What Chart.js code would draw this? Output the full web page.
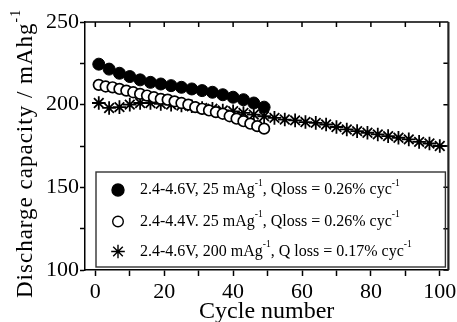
<!DOCTYPE html>
<html>
<head>
<meta charset="utf-8">
<script src="https://cdn.jsdelivr.net/npm/chart.js@4.4.1/dist/chart.umd.min.js"></script>
<style>
  html, body { margin: 0; padding: 0; background: #fff; }
  #wrap { width: 457px; height: 322px; }
</style>
</head>
<body>
<div id="wrap"><canvas id="chart"></canvas></div>
<script>
// values (cycle number, mAh/g)
const cyclesFilled = [1, 4, 7, 10, 13, 16, 19, 22, 25, 28, 31, 34, 37, 40, 43, 46, 49];
const capFilled = [224.5, 221.5, 219, 217, 215, 213.5, 212.5, 211.5, 210.5, 209.5, 208.5, 207.5, 206, 204.5, 203, 201, 198.5];

const cyclesOpen = [1, 3, 5, 7, 9, 11, 13, 15, 17, 19, 21, 23, 25, 27, 29, 31, 33, 35, 37, 39, 41, 43, 45, 47, 49];
const capOpen = [212, 211, 210.5, 209.5, 208.5, 207.5, 206.5, 205.5, 204.5, 203.5, 203, 202, 201, 200, 198.5, 197.5, 196.5, 195.5, 194.5, 193, 191.5, 190, 188.5, 187, 185.5];

const cyclesStar = [1, 4, 7, 10, 13, 16, 19, 22, 25, 28, 31, 34, 37, 40, 43, 46, 49, 52, 55, 58, 61, 64, 67, 70, 73, 76, 79, 82, 85, 88, 91, 94, 97, 100];
const capStar = [201, 198, 198.5, 200, 201, 201, 200.5, 200, 199.5, 199, 198, 197.5, 196.5, 196, 195, 194, 193, 192, 191, 190.5, 189.5, 189, 188, 186.5, 185, 184, 183, 182, 181, 180, 179, 177.5, 176.5, 175];

const xTicks = [0, 10, 20, 30, 40, 50, 60, 70, 80, 90, 100];
const xLabels = [0, 20, 40, 60, 80, 100];
const yTicks = [100, 125, 150, 175, 200, 225, 250];
const yLabels = [100, 150, 200, 250];

// legend text, [text, superscript?]
const legendRows = [
  [["2.4-4.6V, 25 mAg", false], ["-1", true], [", Qloss = 0.26% cyc", false], ["-1", true]],
  [["2.4-4.4V. 25 mAg", false], ["-1", true], [", Qloss = 0.26% cyc", false], ["-1", true]],
  [["2.4-4.6V, 200 mAg", false], ["-1", true], [", Q loss = 0.17% cyc", false], ["-1", true]]
];
const yTitle = [["Discharge capacity / mAhg", false], ["-1", true]];

const FONT = '"Liberation Serif", "Times New Roman", serif';

function toPoints(xs, ys) {
  return xs.map((c, i) => ({ x: c, y: ys[i] }));
}

function richWidth(ctx, parts, size, spacing) {
  let w = 0;
  parts.forEach(([t, sup]) => {
    ctx.font = (sup ? size * 0.6 : size) + 'px ' + FONT;
    w += ctx.measureText(t).width + (spacing || 0) * t.length;
  });
  return w;
}

function drawRich(ctx, parts, x, y, size) {
  let cx = x;
  parts.forEach(([t, sup]) => {
    ctx.font = (sup ? size * 0.6 : size) + 'px ' + FONT;
    ctx.fillText(t, cx, sup ? y - size * 0.42 : y);
    cx += ctx.measureText(t).width;
  });
}

const framePlugin = {
  id: 'frame',
  afterDraw(chart) {
    const { ctx, chartArea: a, scales: { x, y } } = chart;
    ctx.save();
    ctx.strokeStyle = '#000';
    ctx.fillStyle = '#000';

    // top and right axes with inward ticks
    ctx.lineWidth = 1.5;
    ctx.beginPath();
    ctx.moveTo(a.left, a.top);
    ctx.lineTo(a.right, a.top);
    yTicks.forEach(v => {
      const py = y.getPixelForValue(v);
      ctx.moveTo(a.right, py);
      ctx.lineTo(a.right - 5, py);
    });
    xTicks.forEach(v => {
      const px = x.getPixelForValue(v);
      ctx.moveTo(px, a.top);
      ctx.lineTo(px, a.top + 5);
    });
    ctx.stroke();
    ctx.lineWidth = 2.2;
    ctx.strokeStyle = '#222';
    ctx.beginPath();
    ctx.moveTo(a.right, a.top);
    ctx.lineTo(a.right, a.bottom);
    ctx.stroke();

    // legend box
    ctx.strokeStyle = '#333';
    ctx.lineWidth = 1.4;
    ctx.strokeRect(a.left + 11, a.top + 150, a.right - a.left - 14, a.bottom - a.top - 153);

    const rowY = [a.top + 168, a.top + 199.5, a.top + 229.5];
    ctx.textBaseline = 'middle';
    ctx.textAlign = 'left';
    chart.data.datasets.forEach((ds, i) => {
      ctx.fillStyle = ds.backgroundColor;
      ctx.strokeStyle = ds.borderColor;
      Chart.helpers.drawPoint(ctx, {
        pointStyle: ds.pointStyle,
        radius: ds.pointRadius,
        borderWidth: ds.borderWidth,
        rotation: 0
      }, a.left + 33, rowY[i]);
      ctx.fillStyle = '#000';
      drawRich(ctx, legendRows[i], a.left + 55, rowY[i], 16);
    });

    // y axis title
    const size = 23;
    ctx.save();
    ctx.translate(26, (a.top + a.bottom) / 2 - 6);
    ctx.rotate(-Math.PI / 2);
    ctx.letterSpacing = '1px';
    const w = richWidth(ctx, yTitle, size, 1);
    drawRich(ctx, yTitle, -w / 2, 0, size);
    ctx.restore();

    ctx.restore();
  }
};

new Chart(document.getElementById('chart'), {
  type: 'scatter',
  data: {
    datasets: [
      {
        data: toPoints(cyclesFilled, capFilled),
        pointStyle: 'circle',
        pointRadius: 6,
        backgroundColor: '#000',
        borderColor: '#000',
        borderWidth: 1
      },
      {
        data: toPoints(cyclesOpen, capOpen),
        pointStyle: 'circle',
        pointRadius: 5.3,
        backgroundColor: '#fff',
        borderColor: '#000',
        borderWidth: 1.7
      },
      {
        data: toPoints(cyclesStar, capStar),
        pointStyle: 'star',
        pointRadius: 6.8,
        backgroundColor: '#000',
        borderColor: '#000',
        borderWidth: 1.8
      }
    ]
  },
  options: {
    responsive: true,
    maintainAspectRatio: false,
    animation: false,
    layout: { padding: { top: 22, right: 7, left: 0, bottom: 0 } },
    plugins: {
      legend: { display: false },
      tooltip: { enabled: false }
    },
    scales: {
      x: {
        type: 'linear',
        min: -3,
        max: 102.5,
        afterBuildTicks: s => { s.ticks = xTicks.map(v => ({ value: v })); },
        afterFit: s => { s.height = 52; s.paddingLeft = 0; s.paddingRight = 0; },
        ticks: {
          autoSkip: false,
          maxRotation: 0,
          padding: 3,
          color: '#000',
          font: { family: FONT, size: 22 },
          callback: v => xLabels.includes(v) ? String(v) : ''
        },
        grid: { drawOnChartArea: false, tickLength: 6, tickWidth: 1.5, tickColor: '#000' },
        border: { color: '#000', width: 1.5 },
        title: {
          display: true,
          text: 'Cycle number',
          color: '#000',
          font: { family: FONT, size: 24, lineHeight: 1 },
          padding: { top: 0, bottom: -2 }
        }
      },
      y: {
        type: 'linear',
        min: 100,
        max: 250,
        afterBuildTicks: s => { s.ticks = yTicks.map(v => ({ value: v })); },
        afterFit: s => { s.width = 85; s.paddingTop = 0; s.paddingBottom = 0; },
        ticks: {
          padding: 1,
          color: '#000',
          font: { family: FONT, size: 22 },
          callback: v => yLabels.includes(v) ? String(v) : ''
        },
        grid: { drawOnChartArea: false, tickLength: 5, tickWidth: 1.5, tickColor: '#000' },
        border: { color: '#000', width: 1.5 }
      }
    }
  },
  plugins: [framePlugin]
});
</script>
</body>
</html>
